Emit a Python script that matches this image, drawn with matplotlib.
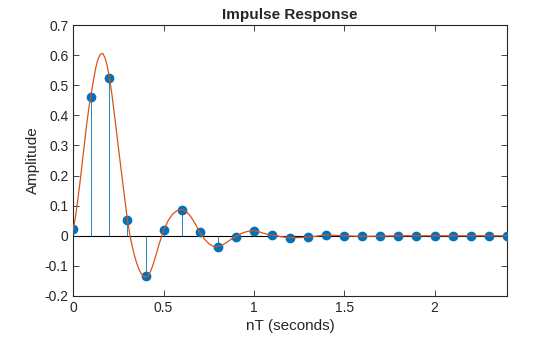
import matplotlib
matplotlib.use("Agg")
import matplotlib.pyplot as plt

# sampled impulse response (stems)
nT = [0.0, 0.1, 0.2, 0.3, 0.4, 0.5, 0.6, 0.7, 0.8, 0.9, 1.0, 1.1, 1.2,
      1.3, 1.4, 1.5, 1.6, 1.7, 1.8, 1.9, 2.0, 2.1, 2.2, 2.3, 2.4]
h_n = [0.022, 0.462, 0.525, 0.051, -0.135, 0.018, 0.087, 0.012, -0.036,
       -0.003, 0.017, 0.003, -0.007, -0.004, 0.003, 0.000, -0.002, 0.0,
       0.0, 0.0, 0.0, 0.0, 0.0, 0.0, 0.0]

# continuous response
t_cont = [0.0, 0.0125, 0.025, 0.0375, 0.05, 0.0625, 0.075, 0.0875, 0.1,
          0.1125, 0.125, 0.1375, 0.15, 0.1625, 0.175, 0.1875, 0.2, 0.2125,
          0.225, 0.2375, 0.25, 0.275, 0.3, 0.3125, 0.325, 0.3375, 0.35,
          0.3625, 0.375, 0.3875, 0.4, 0.4125, 0.425, 0.4375, 0.45, 0.475,
          0.5, 0.525, 0.55, 0.575, 0.6, 0.625, 0.65, 0.675, 0.7, 0.725,
          0.75, 0.775, 0.8, 0.825, 0.85, 0.875, 0.9, 0.925, 0.95, 0.975,
          1.0, 1.025, 1.05, 1.075, 1.1, 1.15, 1.2, 1.25, 1.3, 1.35, 1.4,
          1.5, 1.6, 1.8, 2.0, 2.2, 2.4]
h_cont = [0.022, 0.065, 0.12, 0.18, 0.245, 0.31, 0.375, 0.43, 0.475,
          0.52, 0.56, 0.588, 0.603, 0.606, 0.592, 0.565, 0.525, 0.475,
          0.415, 0.355, 0.292, 0.17, 0.051, 0.005, -0.032, -0.063, -0.089,
          -0.11, -0.125, -0.134, -0.137, -0.134, -0.122, -0.103, -0.08,
          -0.028, 0.018, 0.05, 0.072, 0.084, 0.087, 0.081, 0.064, 0.04,
          0.012, -0.01, -0.026, -0.035, -0.036, -0.031, -0.022, -0.011,
          -0.003, 0.006, 0.012, 0.016, 0.017, 0.014, 0.009, 0.005, 0.003,
          -0.003, -0.007, -0.006, -0.004, -0.001, 0.003, 0.0, -0.002,
          0.0, 0.0, 0.0, 0.0]

blue = (0, 0.447, 0.741)
orange = (0.85, 0.325, 0.098)
dark = (0.15, 0.15, 0.15)

plt.rcParams['font.family'] = ['Liberation Sans', 'DejaVu Sans']

fig = plt.figure(figsize=(5.6, 3.37), dpi=100)
ax = fig.add_axes([0.1309, 0.1217, 0.774, 0.804])

ax.axhline(0, color='black', linewidth=0.8, zorder=1)
ax.vlines(nT, 0, h_n, color=blue, linewidth=0.6, zorder=2)
ax.plot(nT, h_n, 'o', color=blue, markersize=6, zorder=3)
ax.plot(t_cont, h_cont, color=orange, linewidth=0.9, zorder=4)

ax.set_xlim(0, 2.4)
ax.set_ylim(-0.2, 0.7)
ax.set_xticks([0, 0.5, 1, 1.5, 2])
ax.set_xticklabels(['0', '0.5', '1', '1.5', '2'])
ax.set_yticks([-0.2, -0.1, 0, 0.1, 0.2, 0.3, 0.4, 0.5, 0.6, 0.7])
ax.set_yticklabels(['-0.2', '-0.1', '0', '0.1', '0.2', '0.3', '0.4',
                    '0.5', '0.6', '0.7'])
ax.tick_params(direction='in', top=True, right=True, length=4, width=0.6,
               colors=dark, labelsize=10)
for s in ax.spines.values():
    s.set_color(dark)
    s.set_linewidth(0.8)

ax.set_title('Impulse Response', fontsize=11, fontweight='bold', color=dark, pad=4)
ax.set_xlabel('nT (seconds)', fontsize=11, color=dark, labelpad=3)
ax.set_ylabel('Amplitude', fontsize=11, color=dark, labelpad=3)

fig.savefig('out.png', dpi=100)
